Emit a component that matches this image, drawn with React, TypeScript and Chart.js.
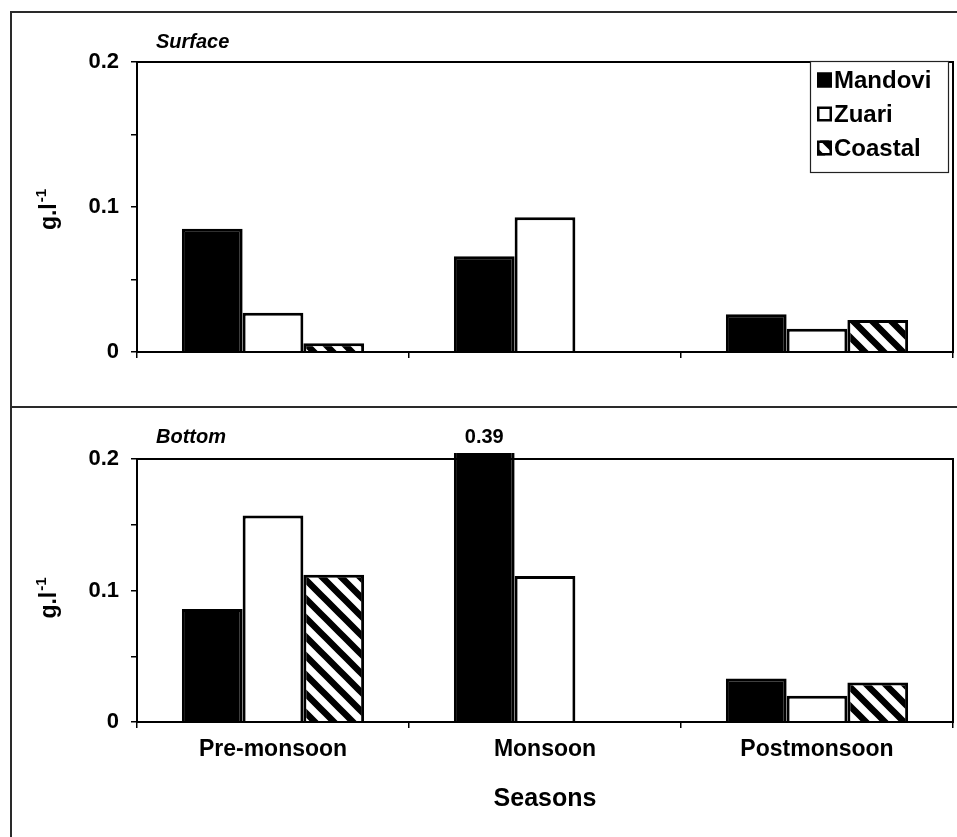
import React, { useEffect, useRef } from 'react';
import { Chart, registerables } from 'chart.js';

Chart.register(...registerables);

const FONT = "'Liberation Sans', Arial, Helvetica, sans-serif";

// Seasons on the category axis
const seasons = ['Pre-monsoon', 'Monsoon', 'Postmonsoon'];
// Sampling stations (one series each)
const stations = ['Mandovi', 'Zuari', 'Coastal'];

// Surface water, g.l-1
const surfaceMandovi = [0.085, 0.066, 0.026];
const surfaceZuari = [0.027, 0.093, 0.016];
const surfaceCoastal: (number | null)[] = [0.006, null, 0.022];

// Bottom water, g.l-1
const bottomMandovi = [0.086, 0.39, 0.033];
const bottomZuari = [0.157, 0.111, 0.02];
const bottomCoastal: (number | null)[] = [0.112, null, 0.03];

// Value axis
const yMin = 0;
const yMax = 0.2;
const yStep = 0.05;

const W = 957;
const TOP_H = 407;
const BOTTOM_H = 430;

function makeHatch(): CanvasPattern | string {
  const s = 19;
  const c = document.createElement('canvas');
  c.width = s;
  c.height = s;
  const g = c.getContext('2d');
  if (!g) return '#777';
  g.fillStyle = '#fff';
  g.fillRect(0, 0, s, s);
  g.strokeStyle = '#000';
  g.lineWidth = 6.5;
  g.beginPath();
  for (const k of [-1, 0, 1]) {
    g.moveTo(k * s - s, -s);
    g.lineTo(k * s + 2 * s, 2 * s);
  }
  g.stroke();
  return g.createPattern(c, 'repeat') || '#777';
}

// Full rectangle around the plot area
const plotFrame = {
  id: 'plotFrame',
  afterDatasetsDraw(chart: any) {
    const { ctx, chartArea: a } = chart;
    ctx.save();
    ctx.strokeStyle = '#000';
    ctx.lineWidth = 2;
    ctx.strokeRect(a.left, a.top, a.right - a.left, a.bottom - a.top);
    ctx.restore();
  },
};

// Italic panel caption above the plot, left side
const panelCaption = {
  id: 'panelCaption',
  afterDraw(chart: any, _args: any, opts: any) {
    if (!opts || !opts.text) return;
    const { ctx, chartArea: a } = chart;
    ctx.save();
    ctx.font = `italic bold 20px ${FONT}`;
    ctx.fillStyle = '#000';
    ctx.textAlign = 'left';
    ctx.textBaseline = 'middle';
    ctx.fillText(opts.text, a.left + 19, a.top - opts.offset);
    ctx.restore();
  },
};

// Rotated unit label "g.l-1" with a raised exponent
const unitTitle = {
  id: 'unitTitle',
  afterDraw(chart: any, _args: any, opts: any) {
    const { ctx, chartArea: a } = chart;
    const cx = a.left - 87;
    const cy = (a.top + a.bottom) / 2 + (opts.shift || 0);
    const main = 'g.l';
    const sup = '-1';
    ctx.save();
    ctx.translate(cx, cy);
    ctx.rotate(-Math.PI / 2);
    ctx.fillStyle = '#000';
    ctx.textBaseline = 'alphabetic';
    ctx.font = `bold 23px ${FONT}`;
    const w1 = ctx.measureText(main).width;
    ctx.font = `bold 15px ${FONT}`;
    const w2 = ctx.measureText(sup).width;
    const x0 = -(w1 + w2) / 2;
    ctx.font = `bold 23px ${FONT}`;
    ctx.fillText(main, x0, 6);
    ctx.font = `bold 15px ${FONT}`;
    ctx.fillText(sup, x0 + w1 + 1, -4);
    ctx.restore();
  },
};

// Boxed legend inside the top-right corner of the plot
const boxLegend = {
  id: 'boxLegend',
  afterDraw(chart: any, _args: any, opts: any) {
    if (!opts || !opts.show) return;
    const { ctx, chartArea: a } = chart;
    const w = 138;
    const h = 111;
    const x0 = a.right - 5 - w;
    const y0 = a.top - 1;
    ctx.save();
    ctx.fillStyle = '#fff';
    ctx.fillRect(x0, y0, w, h);
    ctx.strokeStyle = '#222';
    ctx.lineWidth = 1.2;
    ctx.strokeRect(x0 + 0.5, y0 + 0.5, w, h);
    chart.data.datasets.forEach((ds: any, i: number) => {
      const cy = y0 + 19 + i * 34;
      const sx = x0 + 7;
      ctx.fillStyle = ds.backgroundColor;
      ctx.fillRect(sx, cy - 7.5, 15, 15);
      ctx.strokeStyle = '#000';
      ctx.lineWidth = 2.5;
      ctx.strokeRect(sx + 1.25, cy - 6.25, 12.5, 12.5);
      ctx.fillStyle = '#000';
      ctx.font = `bold 24px ${FONT}`;
      ctx.textAlign = 'left';
      ctx.textBaseline = 'middle';
      ctx.fillText(ds.label, sx + 17, cy + 1);
    });
    ctx.restore();
  },
};

// Value written above any bar that runs past the top of the axis
const overflowLabels = {
  id: 'overflowLabels',
  afterDatasetsDraw(chart: any) {
    const { ctx, chartArea: a } = chart;
    const yScale = chart.scales.y;
    chart.data.datasets.forEach((ds: any, di: number) => {
      const meta = chart.getDatasetMeta(di);
      ds.data.forEach((v: number | null, i: number) => {
        if (v != null && v > yScale.max) {
          const el = meta.data[i];
          ctx.save();
          ctx.font = `bold 20px ${FONT}`;
          ctx.fillStyle = '#000';
          ctx.textAlign = 'center';
          ctx.textBaseline = 'middle';
          ctx.fillText(String(v), el.x, a.top - 22);
          ctx.restore();
        }
      });
    });
  },
};

function buildConfig(
  values: (number | null)[][],
  o: {
    caption: string;
    captionOffset: number;
    showCategories: boolean;
    legend: boolean;
    padTop: number;
    padBottom: number;
    axisHeight: number;
    unitShift: number;
  }
): any {
  const fills: (string | CanvasPattern)[] = ['#000', '#fff', makeHatch()];
  return {
    type: 'bar',
    data: {
      labels: seasons,
      datasets: stations.map((name, i) => ({
        label: name,
        data: values[i],
        backgroundColor: fills[i],
        borderColor: '#000',
        borderWidth: 3,
        categoryPercentage: 0.67,
        barPercentage: 1,
        clip: { left: 0, top: 6, right: 0, bottom: 0 },
      })),
    },
    options: {
      responsive: false,
      animation: false,
      devicePixelRatio: 1,
      layout: { padding: { left: 37, right: 4, top: o.padTop, bottom: o.padBottom } },
      plugins: {
        legend: { display: false },
        tooltip: { enabled: false },
        title: { display: false },
        panelCaption: { text: o.caption, offset: o.captionOffset },
        boxLegend: { show: o.legend },
        unitTitle: { shift: o.unitShift },
      },
      scales: {
        x: {
          offset: true,
          grid: {
            display: true,
            offset: true,
            drawOnChartArea: false,
            drawTicks: true,
            tickLength: 6,
            color: '#000',
            lineWidth: 1.5,
          },
          border: { display: false },
          ticks: {
            autoSkip: false,
            maxRotation: 0,
            color: '#000',
            padding: 8,
            font: { family: FONT, size: 23, weight: 'bold' },
            callback: function (this: any, _v: any, idx: number) {
              return o.showCategories ? seasons[idx] : '';
            },
          },
          title: {
            display: o.showCategories,
            text: 'Seasons',
            color: '#000',
            font: { family: FONT, size: 25, weight: 'bold', lineHeight: 1 },
            padding: { top: 0, bottom: 25 },
          },
          afterFit: (s: any) => {
            s.height = o.axisHeight;
          },
        },
        y: {
          min: yMin,
          max: yMax,
          grid: {
            drawOnChartArea: false,
            drawTicks: true,
            tickLength: 6,
            color: '#000',
            lineWidth: 1.5,
          },
          border: { display: false },
          ticks: {
            stepSize: yStep,
            color: '#000',
            padding: 12,
            font: { family: FONT, size: 22, weight: 'bold' },
            callback: (v: number) => {
              const hundredths = Math.round(v * 100);
              if (hundredths % 10 !== 0) return '';
              return String(hundredths / 100);
            },
          },
          afterFit: (s: any) => {
            s.width = 100;
          },
        },
      },
    },
    plugins: [plotFrame, panelCaption, unitTitle, boxLegend, overflowLabels],
  };
}

export default function App() {
  const topRef = useRef<HTMLCanvasElement | null>(null);
  const bottomRef = useRef<HTMLCanvasElement | null>(null);

  useEffect(() => {
    if (!topRef.current || !bottomRef.current) return;
    const top = new Chart(
      topRef.current,
      buildConfig([surfaceMandovi, surfaceZuari, surfaceCoastal], {
        caption: 'Surface',
        captionOffset: 20,
        showCategories: false,
        legend: true,
        padTop: 62,
        padBottom: 35,
        axisHeight: 20,
        unitShift: 3,
      })
    );
    const bottom = new Chart(
      bottomRef.current,
      buildConfig([bottomMandovi, bottomZuari, bottomCoastal], {
        caption: 'Bottom',
        captionOffset: 22,
        showCategories: true,
        legend: false,
        padTop: 52,
        padBottom: 0,
        axisHeight: 115,
        unitShift: 8,
      })
    );
    return () => {
      top.destroy();
      bottom.destroy();
    };
  }, []);

  const line = '#2a2a2a';
  return (
    <div
      style={{
        position: 'absolute',
        left: 0,
        top: 0,
        width: W,
        height: TOP_H + BOTTOM_H,
        overflow: 'hidden',
        background: '#fff',
      }}
    >
      <canvas
        ref={topRef}
        width={W}
        height={TOP_H}
        style={{ position: 'absolute', left: 0, top: 0, width: W, height: TOP_H }}
      />
      <canvas
        ref={bottomRef}
        width={W}
        height={BOTTOM_H}
        style={{ position: 'absolute', left: 0, top: TOP_H, width: W, height: BOTTOM_H }}
      />
      <div style={{ position: 'absolute', left: 10, top: 11, width: 2, height: TOP_H + BOTTOM_H, background: line }} />
      <div style={{ position: 'absolute', left: 10, top: 11, width: W, height: 2, background: line }} />
      <div style={{ position: 'absolute', left: 10, top: TOP_H - 1, width: W, height: 2, background: line }} />
    </div>
  );
}
